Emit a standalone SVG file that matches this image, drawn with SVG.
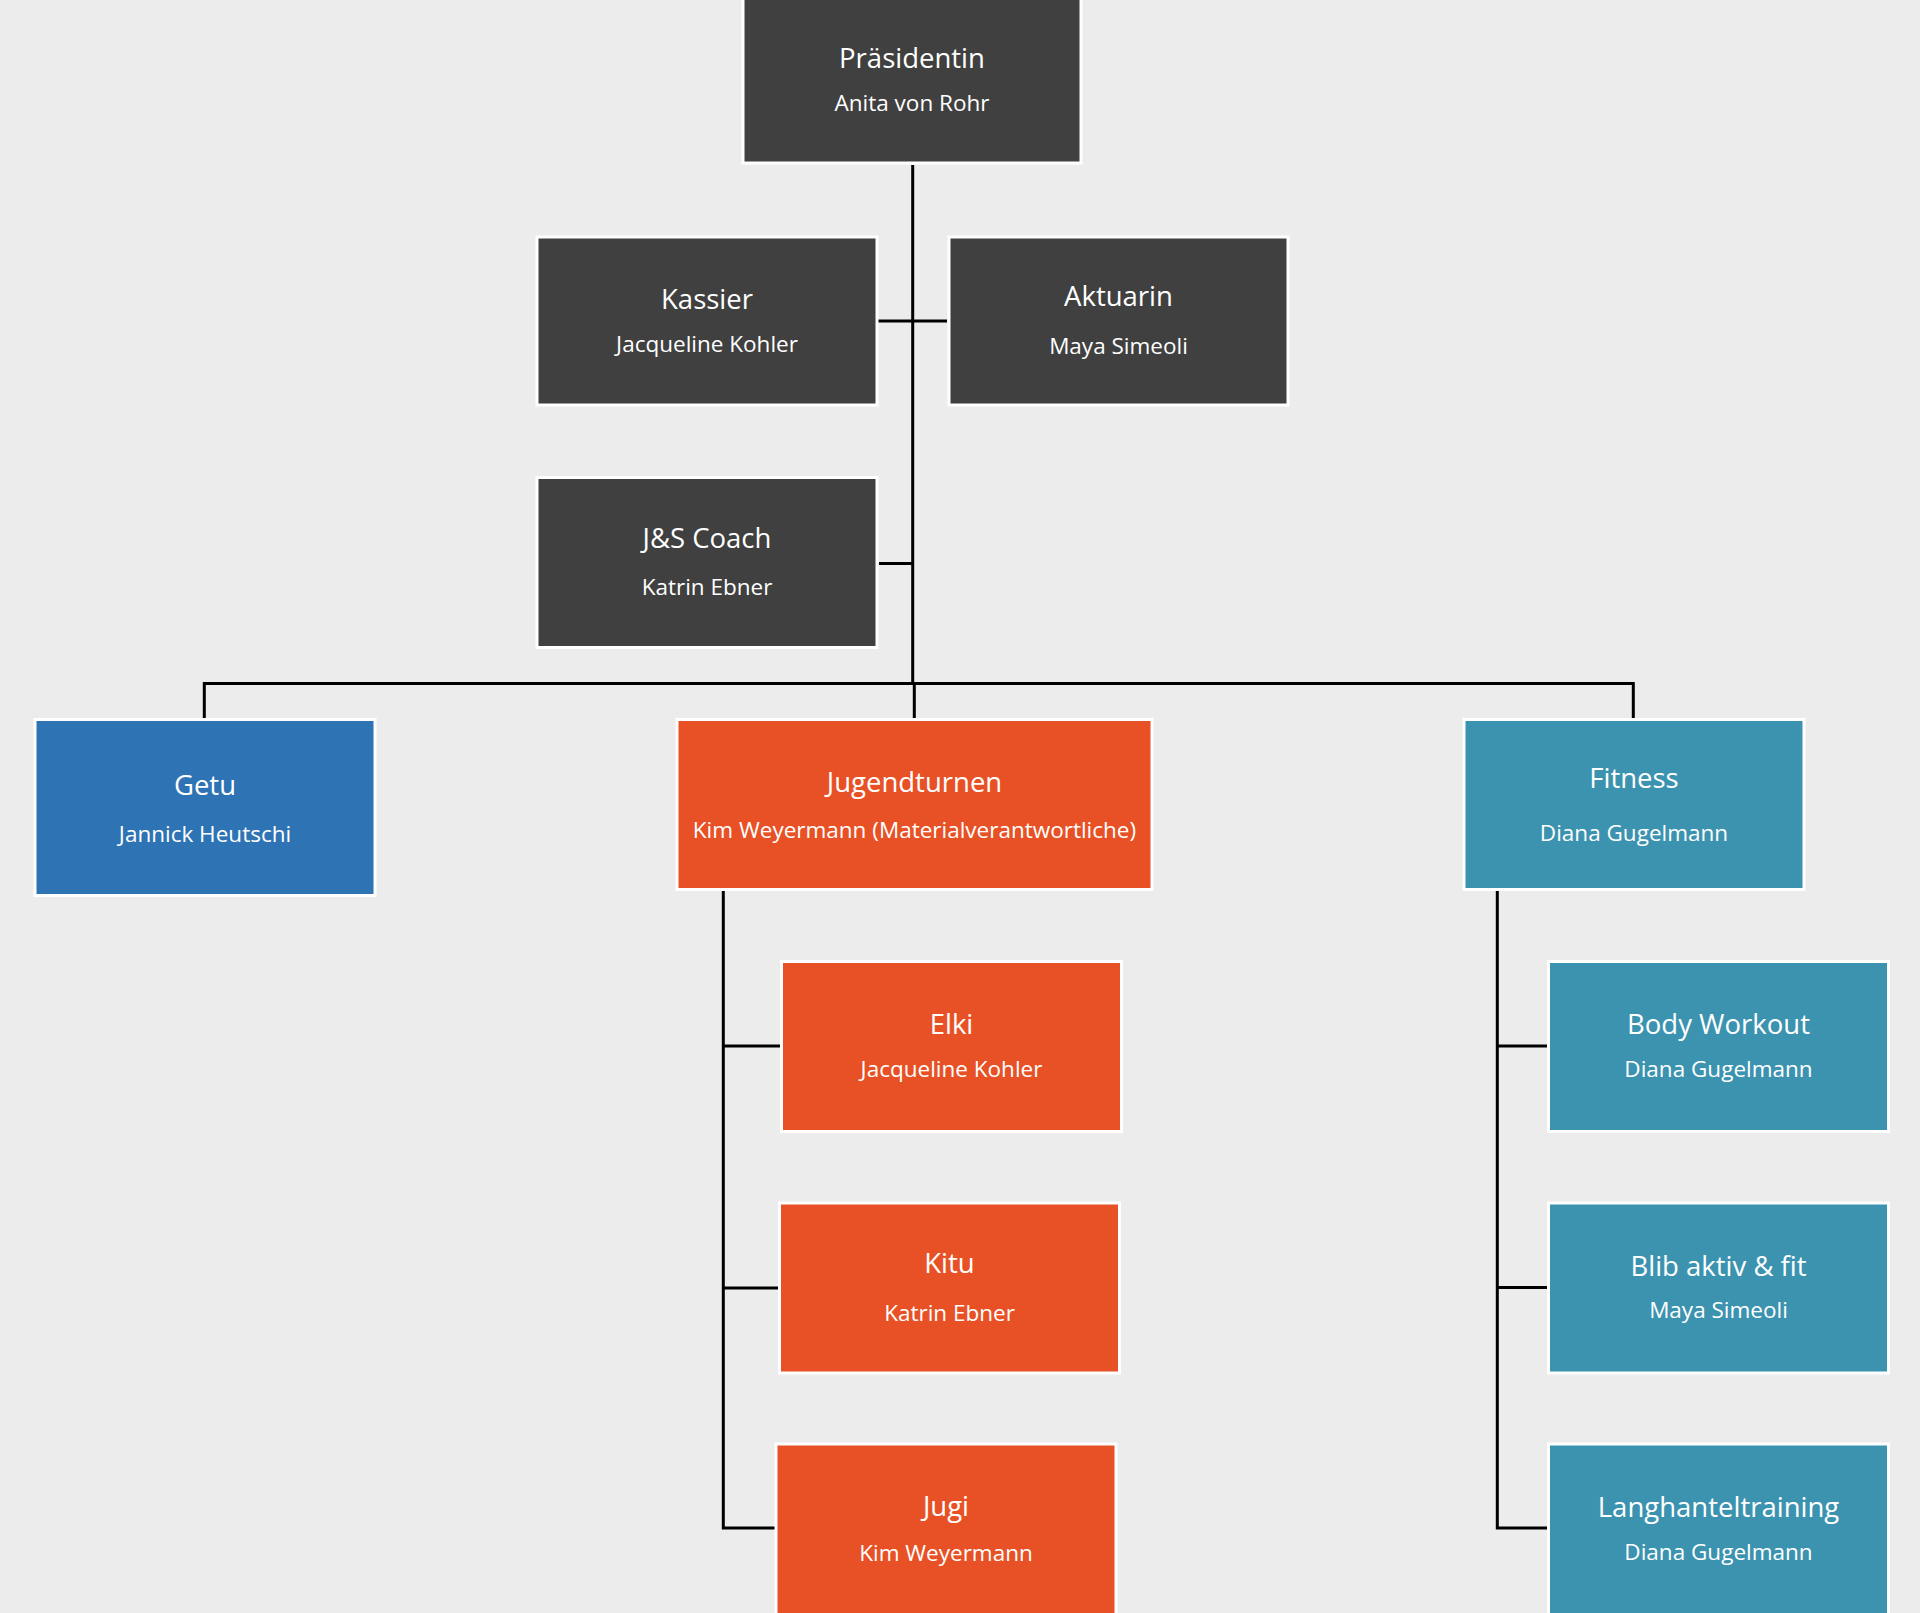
<svg xmlns="http://www.w3.org/2000/svg" width="1920" height="1613" viewBox="0 0 1920 1613">
<style>
.box{stroke:#ffffff;stroke-width:3}
.dark{fill:#404040}
.orange{fill:#e85125}
.blue{fill:#2e74b5}
.teal{fill:#3c93b0}
.t{font-family:"Open Sans","Liberation Sans",sans-serif;fill:#ffffff;text-anchor:middle}
.title{font-size:27.5px}
.sub{font-size:22.5px}
.conn{fill:none;stroke:#000000;stroke-width:3}
</style>
<rect x="0" y="0" width="1920" height="1613" fill="#ebeceb"/>
<g id="connectors">
<path class="conn" d="M912.7 165 V683.5"/>
<path class="conn" d="M878 321 H947"/>
<path class="conn" d="M879 563.5 H912.7"/>
<path class="conn" d="M204.3 719 V683.5 H1633.3 V719"/>
<path class="conn" d="M914.3 683.5 V719"/>
<path class="conn" d="M723.3 891 V1528 H775"/>
<path class="conn" d="M723.3 1046 H780"/>
<path class="conn" d="M723.3 1288 H778"/>
<path class="conn" d="M1497.3 891 V1528 H1547"/>
<path class="conn" d="M1497.3 1046 H1547"/>
<path class="conn" d="M1497.3 1287.5 H1547"/>
</g>
<g id="praesidentin"><rect class="box dark" x="743" y="-3" width="338" height="166"/><text class="t title" x="912" y="68">Präsidentin</text><text class="t sub" x="912" y="111">Anita von Rohr</text></g>
<g id="kassier"><rect class="box dark" x="537" y="237" width="340" height="168"/><text class="t title" x="707" y="309">Kassier</text><text class="t sub" x="707" y="352">Jacqueline Kohler</text></g>
<g id="aktuarin"><rect class="box dark" x="949" y="237" width="339" height="168"/><text class="t title" x="1118.5" y="306">Aktuarin</text><text class="t sub" x="1118.5" y="354">Maya Simeoli</text></g>
<g id="js-coach"><rect class="box dark" x="537" y="477.5" width="340" height="170"/><text class="t title" x="707" y="548">J&amp;S Coach</text><text class="t sub" x="707" y="595">Katrin Ebner</text></g>
<g id="getu"><rect class="box blue" x="35" y="719.5" width="340" height="176"/><text class="t title" x="205" y="795">Getu</text><text class="t sub" x="205" y="842">Jannick Heutschi</text></g>
<g id="jugendturnen"><rect class="box orange" x="677" y="719.5" width="475" height="170"/><text class="t title" x="914.5" y="792">Jugendturnen</text><text class="t sub" x="914.5" y="838">Kim Weyermann (Materialverantwortliche)</text></g>
<g id="fitness"><rect class="box teal" x="1464" y="719.5" width="340" height="170"/><text class="t title" x="1634" y="788">Fitness</text><text class="t sub" x="1634" y="841">Diana Gugelmann</text></g>
<g id="elki"><rect class="box orange" x="781.5" y="961.5" width="340" height="170"/><text class="t title" x="951.5" y="1034">Elki</text><text class="t sub" x="951.5" y="1077">Jacqueline Kohler</text></g>
<g id="kitu"><rect class="box orange" x="779.5" y="1203" width="340" height="170"/><text class="t title" x="949.5" y="1273">Kitu</text><text class="t sub" x="949.5" y="1321">Katrin Ebner</text></g>
<g id="jugi"><rect class="box orange" x="776" y="1444" width="340" height="200"/><text class="t title" x="946" y="1516">Jugi</text><text class="t sub" x="946" y="1561">Kim Weyermann</text></g>
<g id="body-workout"><rect class="box teal" x="1548.5" y="961.5" width="340" height="170"/><text class="t title" x="1718.5" y="1034">Body Workout</text><text class="t sub" x="1718.5" y="1077">Diana Gugelmann</text></g>
<g id="blib-aktiv-fit"><rect class="box teal" x="1548.5" y="1203" width="340" height="170"/><text class="t title" x="1718.5" y="1276">Blib aktiv &amp; fit</text><text class="t sub" x="1718.5" y="1318">Maya Simeoli</text></g>
<g id="langhanteltraining"><rect class="box teal" x="1548.5" y="1444" width="340" height="200"/><text class="t title" x="1718.5" y="1517">Langhanteltraining</text><text class="t sub" x="1718.5" y="1560">Diana Gugelmann</text></g>
</svg>
